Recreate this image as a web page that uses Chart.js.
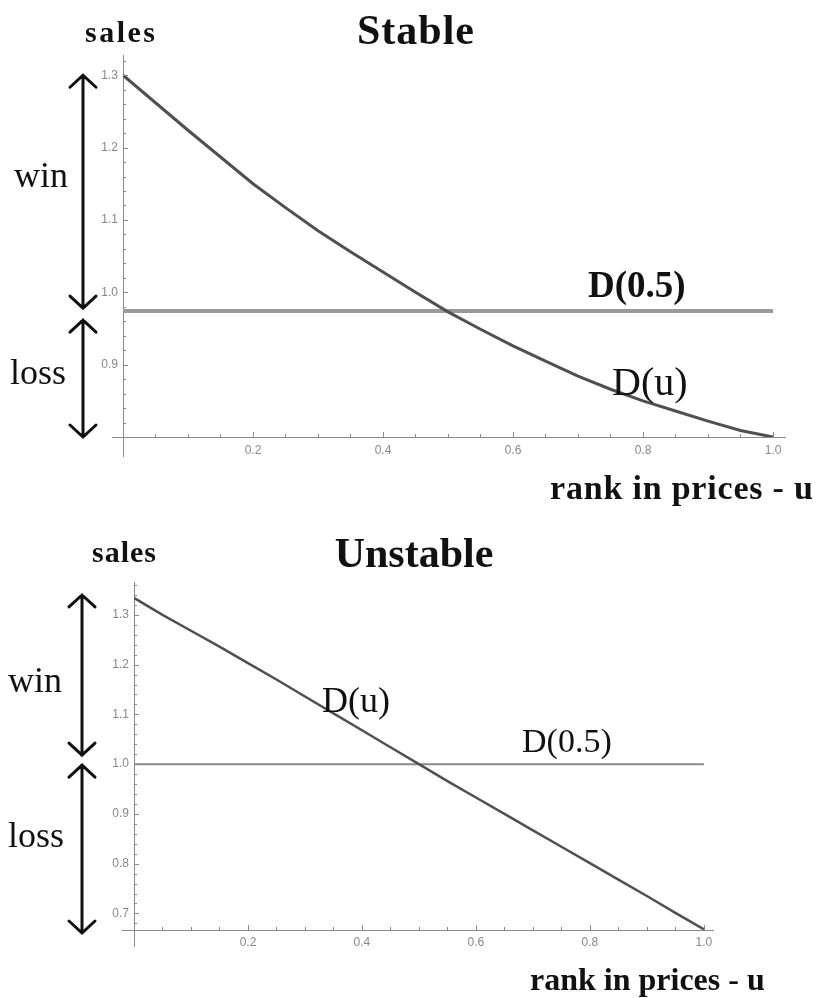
<!DOCTYPE html>
<html>
<head>
<meta charset="utf-8">
<script src="https://cdn.jsdelivr.net/npm/chart.js@4.4.0/dist/chart.umd.min.js"></script>
<style>
  body { margin: 0; background: #fff; }
  canvas { position: absolute; left: 0; }
  #stableChart { top: 0; }
  #unstableChart { top: 512px; }
</style>
</head>
<body>
<canvas id="stableChart" width="822" height="512"></canvas>
<canvas id="unstableChart" width="822" height="486"></canvas>
<script>
// rank in prices (u)
const uValues = [0, 0.05, 0.1, 0.15, 0.2, 0.25, 0.3, 0.35, 0.4, 0.45, 0.5,
                 0.55, 0.6, 0.65, 0.7, 0.75, 0.8, 0.85, 0.9, 0.95, 1.0];
// D(u), stable case
const stableSales = [1.300, 1.262, 1.224, 1.187, 1.150, 1.117, 1.085, 1.056, 1.028, 1.000, 0.973,
                     0.949, 0.926, 0.905, 0.884, 0.866, 0.850, 0.836, 0.822, 0.809, 0.800];
// D(u), unstable case
const unstableSales = [1.334, 1.300, 1.268, 1.236, 1.203, 1.170, 1.136, 1.102, 1.068, 1.034, 1.000,
                       0.966, 0.933, 0.900, 0.867, 0.834, 0.801, 0.768, 0.735, 0.701, 0.668];
const stableD05 = 0.974;
const unstableD05 = 1.0;
const xTicks = [0.2, 0.4, 0.6, 0.8, 1.0];
const stableYTicks = [0.9, 1.0, 1.1, 1.2, 1.3];
const unstableYTicks = [0.7, 0.8, 0.9, 1.0, 1.1, 1.2, 1.3];

const SERIF = '"Liberation Serif", "DejaVu Serif", serif';
const AXIS = '#8a8a8a';

// draws the Mathematica-like bits: inward ticks, axis overhang, win/loss arrows, labels
const sketchPlugin = {
  id: 'sketch',
  afterDraw(chart, args, opts) {
    const ctx = chart.ctx;
    const xs = chart.scales.x, ys = chart.scales.y;
    const x0 = xs.getPixelForValue(0), y0 = ys.getPixelForValue(ys.min);
    ctx.save();
    ctx.strokeStyle = AXIS;
    ctx.lineWidth = 1;
    ctx.beginPath();
    // overhang of the axes past the origin
    ctx.moveTo(x0 + 0.5, y0); ctx.lineTo(x0 + 0.5, y0 + opts.overY);
    ctx.moveTo(x0, y0 + 0.5); ctx.lineTo(x0 - opts.overX, y0 + 0.5);
    // x ticks every 0.05
    for (let k = 1; k * 0.05 <= xs.max + 1e-9; k++) {
      const px = Math.round(xs.getPixelForValue(k * 0.05)) + 0.5;
      const len = k % 4 === 0 ? 5 : 3;
      ctx.moveTo(px, y0); ctx.lineTo(px, y0 - len);
    }
    // y ticks every 0.02
    const start = Math.ceil(ys.min / 0.02 - 1e-6);
    for (let k = start; k * 0.02 <= ys.max + 1e-9; k++) {
      const v = k * 0.02;
      const py = Math.round(ys.getPixelForValue(v)) + 0.5;
      const major = Math.abs(v * 10 - Math.round(v * 10)) < 1e-6;
      ctx.moveTo(x0, py); ctx.lineTo(x0 + (major ? 5 : 3), py);
    }
    ctx.stroke();

    // win / loss arrows
    ctx.strokeStyle = '#111';
    ctx.lineWidth = 3;
    ctx.lineCap = 'round';
    opts.arrows.forEach(a => {
      const top = ys.getPixelForValue(a.from) + (a.dFrom || 0);
      const bot = ys.getPixelForValue(a.to) + (a.dTo || 0);
      const ax = opts.arrowX;
      ctx.beginPath();
      ctx.moveTo(ax, top); ctx.lineTo(ax, bot);
      ctx.moveTo(ax - 13, top + 12); ctx.lineTo(ax, top); ctx.lineTo(ax + 13, top + 12);
      ctx.moveTo(ax - 13, bot - 12); ctx.lineTo(ax, bot); ctx.lineTo(ax + 13, bot - 12);
      ctx.stroke();
    });

    // texts
    ctx.fillStyle = '#111';
    ctx.textBaseline = 'alphabetic';
    opts.texts.forEach(t => {
      ctx.font = t.font;
      ctx.letterSpacing = t.spacing || '0px';
      ctx.textAlign = t.align || 'left';
      ctx.fillText(t.text, t.x, t.y);
    });
    ctx.restore();
  }
};

function makeChart(id, cfg) {
  return new Chart(document.getElementById(id), {
    type: 'line',
    data: {
      datasets: [
        {
          data: uValues.map((u, i) => ({ x: u, y: cfg.sales[i] })),
          borderColor: '#505050',
          borderWidth: cfg.curveWidth,
          pointRadius: 0,
          tension: 0
        },
        {
          data: [{ x: 0, y: cfg.d05 }, { x: 1, y: cfg.d05 }],
          borderColor: cfg.d05Color,
          borderWidth: cfg.d05Width,
          pointRadius: 0
        }
      ]
    },
    options: {
      responsive: false,
      animation: false,
      layout: { padding: cfg.padding },
      plugins: {
        legend: { display: false },
        tooltip: { enabled: false },
        sketch: cfg.sketch
      },
      scales: {
        x: {
          type: 'linear',
          min: 0,
          max: cfg.xMax,
          grid: { display: false, drawTicks: false },
          border: { color: AXIS, width: 1 },
          afterBuildTicks: s => { s.ticks = xTicks.map(v => ({ value: v })); },
          afterFit: s => { s.height = 30; },
          ticks: {
            padding: cfg.xPad,
            color: '#888',
            font: { family: '"Liberation Sans", Arial, sans-serif', size: 12 },
            callback: v => Number(v).toFixed(1)
          }
        },
        y: {
          min: cfg.yMin,
          max: cfg.yMax,
          grid: { display: false, drawTicks: false },
          border: { color: AXIS, width: 1 },
          afterBuildTicks: s => { s.ticks = cfg.yTicks.map(v => ({ value: v })); },
          afterFit: s => { s.width = 40; },
          ticks: {
            padding: 5,
            color: '#888',
            font: { family: '"Liberation Sans", Arial, sans-serif', size: 12 },
            callback: v => Number(v).toFixed(1)
          }
        }
      }
    },
    plugins: [sketchPlugin]
  });
}

makeChart('stableChart', {
  sales: stableSales,
  d05: stableD05,
  d05Color: '#9a9a9a',
  d05Width: 4,
  curveWidth: 3,
  xMax: 1.0185,
  yMin: 0.8,
  yMax: 1.328,
  yTicks: stableYTicks,
  xPad: 6,
  padding: { left: 83, right: 37, top: 55, bottom: 45 },
  sketch: {
    overX: 11, overY: 20, arrowX: 83,
    arrows: [
      { from: 1.3, to: stableD05, dTo: -3 },
      { from: stableD05, dFrom: 9, to: 0.8 }
    ],
    texts: [
      { text: 'sales', x: 85, y: 42, font: 'bold 30px ' + SERIF, spacing: '2.5px' },
      { text: 'Stable', x: 416, y: 44, font: 'bold 42px ' + SERIF, align: 'center', spacing: '1px' },
      { text: 'win', x: 14, y: 187, font: '36px ' + SERIF },
      { text: 'loss', x: 10, y: 384, font: '36px ' + SERIF },
      { text: 'D(0.5)', x: 588, y: 297, font: 'bold 37px ' + SERIF },
      { text: 'D(u)', x: 612, y: 395, font: '40px ' + SERIF },
      { text: 'rank in prices - u', x: 550, y: 499, font: 'bold 34px ' + SERIF, spacing: '0.8px' }
    ]
  }
});

makeChart('unstableChart', {
  sales: unstableSales,
  d05: unstableD05,
  d05Color: '#8a8a8a',
  d05Width: 2,
  curveWidth: 2.5,
  xMax: 1.016,
  yMin: 0.6667,
  yMax: 1.366,
  yTicks: unstableYTicks,
  xPad: 5,
  padding: { left: 94, right: 109, top: 70, bottom: 38 },
  sketch: {
    overX: 12, overY: 17, arrowX: 82,
    arrows: [
      { from: 1.334, dFrom: -3, to: unstableD05, dTo: -9 },
      { from: unstableD05, dFrom: 1, to: 0.6667, dTo: 3 }
    ],
    texts: [
      { text: 'sales', x: 92, y: 50, font: 'bold 30px ' + SERIF, spacing: '1px' },
      { text: 'Unstable', x: 414, y: 55, font: 'bold 42px ' + SERIF, align: 'center' },
      { text: 'win', x: 8, y: 180, font: '36px ' + SERIF },
      { text: 'loss', x: 8, y: 335, font: '36px ' + SERIF },
      { text: 'D(u)', x: 322, y: 200, font: '36px ' + SERIF },
      { text: 'D(0.5)', x: 522, y: 240, font: '34px ' + SERIF },
      { text: 'rank in prices - u', x: 530, y: 478, font: 'bold 32px ' + SERIF }
    ]
  }
});
</script>
</body>
</html>
